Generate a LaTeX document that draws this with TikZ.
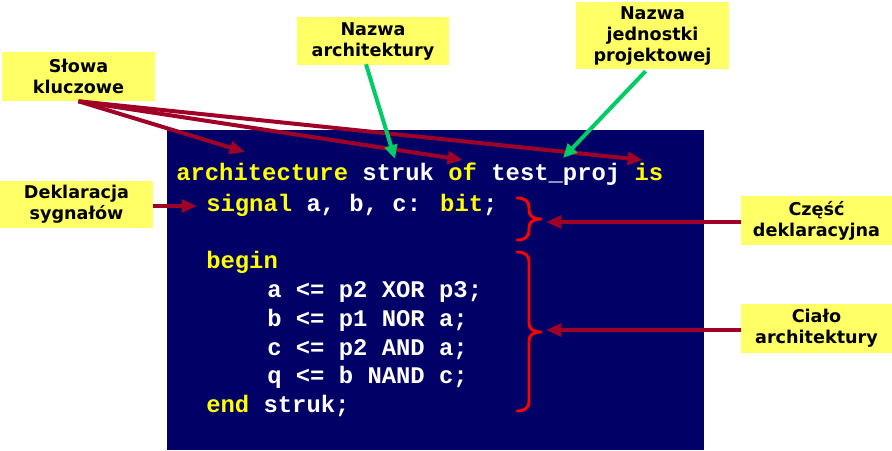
\documentclass[tikz,border=0pt]{standalone}
\usepackage{fontspec}
\usetikzlibrary{arrows.meta,calc}
\newfontfamily\codefont{Liberation Mono}
\newfontfamily\labfont{DejaVu Sans}
\definecolor{panelblue}{RGB}{0,0,102}
\definecolor{kwyellow}{RGB}{255,255,0}
\definecolor{labyellow}{RGB}{255,255,102}
\definecolor{darkred}{RGB}{160,0,40}
\definecolor{arrowgreen}{RGB}{0,204,102}
\definecolor{bracered}{RGB}{255,0,0}
\newcommand{\kw}[1]{\textcolor{kwyellow}{#1}}
\tikzset{
  codeline/.style={anchor=base west, inner sep=0pt, text=white,
    font=\codefont\bfseries\fontsize{17.9pt}{20pt}\selectfont},
  labelbox/.style={fill=labyellow, inner sep=0pt, align=center,
    minimum width=153*0.75pt, minimum height=49*0.75pt,
    font=\labfont\bfseries\fontsize{13.2pt}{15.75pt}\selectfont},
  redarrow/.style={draw=darkred, line width=3pt,
    -{Triangle[length=11.5pt,width=9.5pt]}},
  greenarrow/.style={draw=arrowgreen, line width=3pt,
    -{Triangle[length=10.5pt,width=9.5pt]}},
  bracepath/.style={draw=bracered, line width=2.2pt, line cap=round, line join=round},
}
\begin{document}
\begin{tikzpicture}[x=0.75pt, y=-0.75pt]
\useasboundingbox (0,0) rectangle (892,450);

% code panel
\fill[panelblue] (167,130) rectangle (704,450);

% VHDL source
\node[codeline] (l1) at (176,180) {\kw{architecture} struk \kw{of} test\_proj \kw{is}};
\node[codeline] (l2) at (206,211) {\kw{signal} a, b, c: \kw{bit};};
\node[codeline] (l3) at (206,268) {\kw{begin}};
\node[codeline] (l4) at (267,297) {a <= p2 XOR p3;};
\node[codeline] (l5) at (267,326) {b <= p1 NOR a;};
\node[codeline] (l6) at (267,355) {c <= p2 AND a;};
\node[codeline] (l7) at (267,383) {q <= b NAND c;};
\node[codeline] (l8) at (206,412) {\kw{end} struk;};

% braces
\coordinate (b1) at (546,222);
\coordinate (b2) at (546,330);
\draw[bracepath] (517,198) .. controls (525,198) and (529,201) .. (529,208)
  -- (529,210) .. controls (529,216) and (533,219) .. (541,219)
  .. controls (533,219) and (529,222) .. (529,228)
  -- (529,230) .. controls (529,237) and (525,240) .. (517,240);
\draw[bracepath] (517,252) .. controls (525,252) and (529,255) .. (529,262)
  -- (529,323) .. controls (529,329) and (533,332) .. (541,332)
  .. controls (533,332) and (529,335) .. (529,341)
  -- (529,401) .. controls (529,408) and (525,411) .. (517,411);

% labels
\node[labelbox] (slowa) at (78.5,76.5) {Słowa\\kluczowe};
\node[labelbox, minimum height=47*0.75pt] (dekl) at (76.5,204.5) {Deklaracja\\sygnałów};
\node[labelbox, minimum width=152*0.75pt, minimum height=48*0.75pt] (narch) at (373,41) {Nazwa\\architektury};
\node[labelbox, minimum height=67*0.75pt] (njedn) at (652.5,35.5) {Nazwa\\jednostki\\projektowej};
\node[labelbox, minimum width=151*0.75pt] (czesc) at (816.5,220.5) {Część\\deklaracyjna};
\node[labelbox, minimum width=151*0.75pt] (cialo) at (816.5,328.5) {Ciało\\architektury};

% keyword pointers
\coordinate (kw1) at (245,152);
\coordinate (kw2) at (463,160);
\coordinate (kw3) at (643,160);
\draw[redarrow] (slowa.south) -- (kw1);
\draw[redarrow] (slowa.south) -- (kw2);
\draw[redarrow] (slowa.south) -- (kw3);

% name pointers
\coordinate (nm1) at (395,159);
\coordinate (nm2) at (563,158);
\draw[greenarrow] ($(narch.south)+(-7,-1)$) -- (nm1);
\draw[greenarrow] ($(njedn.south)+(-7,2)$) -- (nm2);

% signal declaration pointer
\coordinate (sig) at (197,206);
\draw[redarrow] (dekl.east |- sig) -- (sig);

% section pointers
\draw[redarrow] (czesc.west |- b1) -- (b1);
\draw[redarrow] (cialo.west |- b2) -- (b2);
\end{tikzpicture}
\end{document}
